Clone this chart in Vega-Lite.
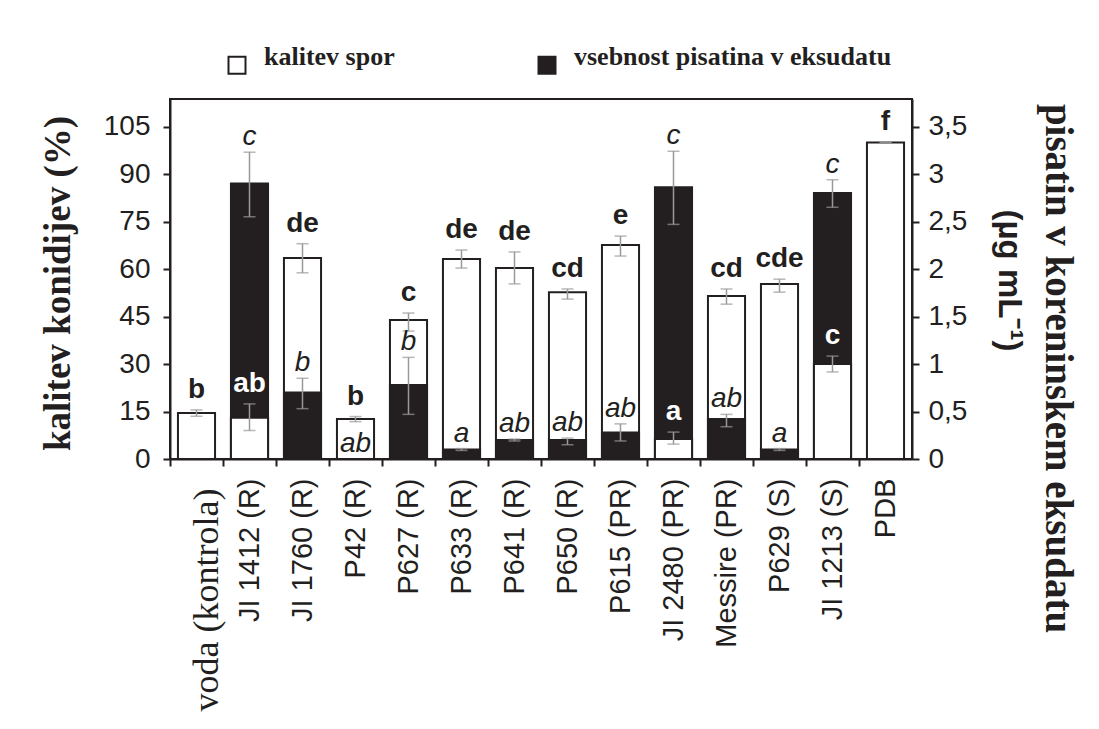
{
  "$schema": "https://vega.github.io/schema/vega-lite/v6.json",
  "width": 742,
  "height": 360,
  "autosize": {"type": "none"},
  "padding": {"left": 170, "top": 99, "right": 187, "bottom": 270},
  "background": "white",
  "config": {
    "view": {"stroke": "#231f20", "strokeWidth": 2},
    "axis": {"domainColor": "#231f20", "domainWidth": 2, "tickColor": "#231f20", "tickWidth": 2, "labelColor": "#231f20", "titleColor": "#231f20", "grid": false, "labelFont": "Liberation Sans"}
  },
  "data": {
    "values": [
      {"cult": "voda (kontrola)", "germ": 14.5, "germ_lo": 13.5, "germ_hi": 15.5, "gl": "b", "pis": 0, "pis_lo": 0, "pis_hi": 0, "pl": ""},
      {"cult": "JI 1412 (R)", "germ": 13, "germ_lo": 9, "germ_hi": 17.4, "gl": "ab", "pis": 2.9, "pis_lo": 2.55, "pis_hi": 3.23, "pl": "c"},
      {"cult": "JI 1760 (R)", "germ": 63.5, "germ_lo": 58.8, "germ_hi": 68, "gl": "de", "pis": 0.7, "pis_lo": 0.53, "pis_hi": 0.85, "pl": "b"},
      {"cult": "P42 (R)", "germ": 12.6, "germ_lo": 11.8, "germ_hi": 13.4, "gl": "b", "pis": 0, "pis_lo": 0, "pis_hi": 0, "pl": "ab"},
      {"cult": "P627 (R)", "germ": 43.9, "germ_lo": 40.4, "germ_hi": 46.1, "gl": "c", "pis": 0.78, "pis_lo": 0.47, "pis_hi": 1.07, "pl": "b"},
      {"cult": "P633 (R)", "germ": 63.2, "germ_lo": 60.3, "germ_hi": 66, "gl": "de", "pis": 0.1, "pis_lo": 0.09, "pis_hi": 0.11, "pl": "a"},
      {"cult": "P641 (R)", "germ": 60.3, "germ_lo": 55.3, "germ_hi": 65.4, "gl": "de", "pis": 0.2, "pis_lo": 0.19, "pis_hi": 0.21, "pl": "ab"},
      {"cult": "P650 (R)", "germ": 52.7, "germ_lo": 50.5, "germ_hi": 53.7, "gl": "cd", "pis": 0.2, "pis_lo": 0.15, "pis_hi": 0.22, "pl": "ab"},
      {"cult": "P615 (PR)", "germ": 67.6, "germ_lo": 64.1, "germ_hi": 70.4, "gl": "e", "pis": 0.28, "pis_lo": 0.19, "pis_hi": 0.37, "pl": "ab"},
      {"cult": "JI 2480 (PR)", "germ": 6.3, "germ_lo": 4.7, "germ_hi": 8.5, "gl": "a", "pis": 2.86, "pis_lo": 2.47, "pis_hi": 3.24, "pl": "c"},
      {"cult": "Messire (PR)", "germ": 51.5, "germ_lo": 48.9, "germ_hi": 53.7, "gl": "cd", "pis": 0.42, "pis_lo": 0.34, "pis_hi": 0.47, "pl": "ab"},
      {"cult": "P629 (S)", "germ": 55.3, "germ_lo": 52.7, "germ_hi": 56.8, "gl": "cde", "pis": 0.1, "pis_lo": 0.09, "pis_hi": 0.11, "pl": "a"},
      {"cult": "JI 1213 (S)", "germ": 30, "germ_lo": 27.5, "germ_hi": 32.5, "gl": "c", "pis": 2.8, "pis_lo": 2.65, "pis_hi": 2.94, "pl": "c"},
      {"cult": "PDB", "germ": 100, "germ_lo": 100, "germ_hi": 100, "gl": "f", "pis": 0, "pis_lo": 0, "pis_hi": 0, "pl": ""}
    ]
  },
  "encoding": {
    "x": {
      "field": "cult", "type": "nominal", "sort": null,
      "scale": {"paddingInner": 0.3, "paddingOuter": 0.15},
      "axis": {
        "title": null,
        "labelAngle": 270,
        "labelFont": {"condition": {"test": "datum.value === 'voda (kontrola)'", "value": "Liberation Serif"}, "value": "Liberation Sans"},
        "labelFontSize": {"condition": {"test": "datum.value === 'voda (kontrola)'", "value": 36}, "value": 29},
        "labelPadding": {"condition": {"test": "datum.value === 'voda (kontrola)'", "value": 22}, "value": 12},
        "labelOffset": {"condition": {"test": "datum.value === 'voda (kontrola)'", "value": 18}, "value": 7.95},
        "labelLimit": 400,
        "tickSize": 7,
        "bandPosition": 0,
        "tickOffset": -7.95
      }
    }
  },
  "layer": [
    {
      "mark": {"type": "bar", "stroke": "#231f20", "strokeWidth": 2},
      "encoding": {
        "y": {
          "field": "germ", "type": "quantitative",
          "scale": {"domain": [0, 113.7], "nice": false},
          "axis": {
            "orient": "left",
            "values": [0, 15, 30, 45, 60, 75, 90, 105],
            "labelFontSize": 28, "labelPadding": 13, "tickSize": 7,
            "title": "kalitev konidijev (%)",
            "titleFont": "Liberation Serif", "titleFontWeight": "bold", "titleFontSize": 37,
            "titleAngle": 270, "titleX": -112, "titleY": 184, "titleAlign": "center", "titleBaseline": "middle"
          }
        },
        "color": {
          "datum": "kalitev spor",
          "scale": {"domain": ["kalitev spor", "vsebnost pisatina v  eksudatu"], "range": ["white", "#231f20"]},
          "legend": {
            "title": null, "orient": "none", "direction": "horizontal",
            "legendX": 54, "legendY": -47, "padding": 0,
            "symbolType": "square", "symbolSize": 289, "symbolStrokeColor": "#231f20", "symbolStrokeWidth": 2,
            "labelFont": "Liberation Serif", "labelFontWeight": "bold", "labelFontSize": 26, "labelColor": "#231f20",
            "labelBaseline": "alphabetic", "labelOffset": 14, "labelLimit": 500, "columnPadding": 139
          }
        }
      }
    },
    {
      "mark": {"type": "bar", "stroke": "#231f20", "strokeWidth": 2},
      "encoding": {
        "y": {
          "field": "pis", "type": "quantitative",
          "scale": {"domain": [0, 3.79], "nice": false},
          "axis": {
            "orient": "right",
            "values": [0, 0.5, 1, 1.5, 2, 2.5, 3, 3.5],
            "labelExpr": "replace(format(datum.value, '.1~f'), '.', ',')",
            "labelFontSize": 28, "labelPadding": 9, "tickSize": 7,
            "title": "(µg mL⁻¹)",
            "titleFont": "Liberation Sans", "titleFontWeight": "bold", "titleFontSize": 33,
            "titleAngle": 90, "titleX": 96, "titleY": 181, "titleAlign": "center", "titleBaseline": "middle"
          }
        },
        "color": {"datum": "vsebnost pisatina v  eksudatu"}
      }
    },
    {
      "transform": [{"filter": "datum.pis > 0"}],
      "mark": {"type": "rule", "color": "#999999", "strokeWidth": 1.5},
      "encoding": {
        "y": {"field": "pis_lo", "type": "quantitative", "scale": {"domain": [0, 3.79], "nice": false}, "axis": null},
        "y2": {"field": "pis_hi"}
      }
    },
    {
      "transform": [{"filter": "datum.pis > 0"}],
      "mark": {"type": "tick", "color": "#999999", "size": 12, "thickness": 1.5},
      "encoding": {"y": {"field": "pis_hi", "type": "quantitative", "scale": {"domain": [0, 3.79], "nice": false}, "axis": null}}
    },
    {
      "transform": [{"filter": "datum.pis > 0"}],
      "mark": {"type": "tick", "color": "#999999", "size": 12, "thickness": 1.5},
      "encoding": {"y": {"field": "pis_lo", "type": "quantitative", "scale": {"domain": [0, 3.79], "nice": false}, "axis": null}}
    },
    {
      "transform": [{"filter": "datum.pis * 30 > datum.germ"}],
      "mark": {"type": "bar", "stroke": "#231f20", "strokeWidth": 2},
      "encoding": {
        "y": {
          "field": "germ", "type": "quantitative",
          "scale": {"domain": [0, 113.7], "nice": false},
          "axis": {
            "orient": "right", "labels": false, "ticks": false, "domain": false,
            "title": "pisatin v koreninskem  eksudatu",
            "titleFont": "Liberation Serif", "titleFontWeight": "bold", "titleFontSize": 39,
            "titleAngle": 90, "titleX": 145, "titleY": 269, "titleAlign": "center", "titleBaseline": "middle"
          }
        },
        "color": {"datum": "kalitev spor"}
      }
    },
    {
      "mark": {"type": "rule", "color": "#999999", "strokeWidth": 1.5},
      "encoding": {
        "y": {"field": "germ_lo", "type": "quantitative", "scale": {"domain": [0, 113.7], "nice": false}, "axis": null},
        "y2": {"field": "germ_hi"}
      }
    },
    {
      "mark": {"type": "tick", "color": "#999999", "size": 12, "thickness": 1.5},
      "encoding": {"y": {"field": "germ_hi", "type": "quantitative", "scale": {"domain": [0, 113.7], "nice": false}, "axis": null}}
    },
    {
      "mark": {"type": "tick", "color": "#999999", "size": 12, "thickness": 1.5},
      "encoding": {"y": {"field": "germ_lo", "type": "quantitative", "scale": {"domain": [0, 113.7], "nice": false}, "axis": null}}
    },
    {
      "mark": {"type": "text", "font": "Liberation Sans", "fontStyle": "italic", "fontSize": 28, "baseline": "middle", "dy": -15, "color": "#231f20"},
      "encoding": {
        "y": {"field": "pis_hi", "type": "quantitative", "scale": {"domain": [0, 3.79], "nice": false}, "axis": null},
        "text": {"field": "pl"}
      }
    },
    {
      "mark": {"type": "text", "font": "Liberation Sans", "fontWeight": "bold", "fontSize": 28, "baseline": "middle", "dy": -20},
      "encoding": {
        "y": {"field": "germ_hi", "type": "quantitative", "scale": {"domain": [0, 113.7], "nice": false}, "axis": null},
        "text": {"field": "gl"},
        "color": {"condition": {"test": "datum.pis * 30 > datum.germ", "value": "white"}, "value": "#231f20"}
      }
    }
  ],
  "resolve": {"scale": {"y": "independent"}}
}
